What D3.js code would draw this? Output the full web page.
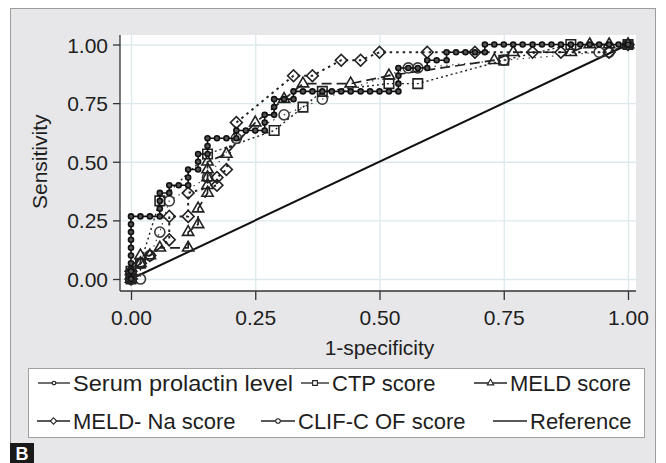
<!DOCTYPE html>
<html>
<head>
<meta charset="utf-8">
<script src="https://cdn.jsdelivr.net/npm/d3@7"></script>
<style>
body { margin: 0; background: #fff; }
text { font-family: "Liberation Sans", Arial, sans-serif; fill: #1e1e1e; }
</style>
</head>
<body>
<div id="plot"></div>
<script>
// ROC points: [1-specificity, sensitivity]
var xTicks = [0, 0.25, 0.5, 0.75, 1];
var yTicks = [0, 0.25, 0.5, 0.75, 1];

var prolactin = [
  [0,0],[0,.033],[0,.067],[0,.1],[0,.133],[0,.167],[0,.2],[0,.233],[0,.267],
  [.019,.267],[.038,.267],[.058,.267],
  [.058,.3],[.058,.333],[.058,.367],
  [.077,.367],[.077,.4],
  [.096,.4],[.115,.4],
  [.115,.433],[.115,.467],
  [.135,.467],[.135,.5],[.135,.533],
  [.154,.533],[.154,.567],[.154,.6],
  [.173,.6],[.192,.6],[.212,.6],
  [.212,.633],
  [.231,.633],[.25,.633],[.269,.633],
  [.269,.667],[.269,.7],
  [.288,.7],[.288,.733],[.288,.767],
  [.308,.767],[.327,.767],
  [.327,.8],
  [.346,.8],[.365,.8],[.385,.8],[.404,.8],[.423,.8],[.442,.8],[.462,.8],[.481,.8],[.5,.8],[.519,.8],[.538,.8],
  [.538,.833],[.538,.867],[.538,.9],
  [.558,.9],[.577,.9],[.596,.9],
  [.596,.933],
  [.615,.933],[.635,.933],
  [.635,.967],
  [.654,.967],[.673,.967],[.692,.967],[.712,.967],
  [.712,1],
  [.731,1],[.75,1],[.769,1],[.788,1],[.808,1],[.827,1],[.846,1],[.865,1],[.885,1],[.904,1],[.923,1],[.942,1],[.962,1],[.981,1],[1,1]
];

var ctp = [
  [0,0],[0,.033],[.019,.067],[.058,.333],[.154,.533],[.288,.633],[.346,.733],
  [.385,.8],[.519,.833],[.577,.833],[.75,.933],[.885,1],[1,1]
];

var meld = [
  [0,0],[0,.033],[.019,.067],[.019,.1],[.038,.1],[.058,.133],[.115,.133],[.115,.2],
  [.135,.233],[.135,.3],[.154,.367],[.154,.4],[.154,.433],[.154,.467],[.154,.5],
  [.192,.533],[.25,.667],[.308,.767],[.346,.833],[.442,.833],[.519,.867],
  [.731,.933],[.769,.967],[.885,.967],[.923,1],[.962,1],[1,1]
];

var meldNa = [
  [0,0],[0,.033],[.019,.067],[.038,.1],[.077,.167],[.077,.267],[.115,.267],[.115,.367],
  [.173,.4],[.173,.433],[.192,.467],[.212,.667],[.327,.867],[.365,.867],[.423,.933],
  [.462,.933],[.5,.967],[.596,.967],[.692,.967],[.808,.967],[.865,.967],[.962,.967],[1,1]
];

var clif = [
  [0,0],[.019,0],[.019,.067],[.038,.1],[.058,.2],[.077,.333],[.154,.433],[.212,.6],
  [.308,.7],[.385,.767],[.558,.9],[.577,.9],[.75,.933],[.942,.967],[.962,.967],[1,1]
];

var reference = [[0,0],[1,1]];

var svgWidth = 666;
var svgHeight = 463;

var svg = d3.select("#plot")
  .append("svg")
  .attr("width", svgWidth)
  .attr("height", svgHeight);

// outer gray panel
svg.append("rect")
  .attr("x", 10.5).attr("y", 8.5)
  .attr("width", 645).attr("height", 470)
  .attr("fill", "#e7e7e9")
  .attr("stroke", "#9c9c9c");

// plot region
var plot = { left: 120, top: 35, right: 636, bottom: 291 };
svg.append("rect")
  .attr("x", plot.left).attr("y", plot.top)
  .attr("width", plot.right - plot.left)
  .attr("height", plot.bottom - plot.top)
  .attr("fill", "#fff");

var x = d3.scaleLinear().domain([0, 1]).range([131, 628]);
var y = d3.scaleLinear().domain([0, 1]).range([279, 44.5]);

// gridlines
svg.append("g")
  .attr("transform", "translate(0," + plot.top + ")")
  .call(d3.axisBottom(x).tickValues(xTicks).tickSize(plot.bottom - plot.top).tickFormat(""))
  .call(g => g.select(".domain").remove())
  .call(g => g.selectAll("line").attr("stroke", "#dce9ec").attr("stroke-width", 1.3));
svg.append("g")
  .attr("transform", "translate(" + plot.left + ",0)")
  .call(d3.axisRight(y).tickValues(yTicks).tickSize(plot.right - plot.left).tickFormat(""))
  .call(g => g.select(".domain").remove())
  .call(g => g.selectAll("line").attr("stroke", "#dce9ec").attr("stroke-width", 1.3));

// axes
var fmt = d3.format(".2f");
var xAxis = svg.append("g")
  .attr("transform", "translate(0," + plot.bottom + ")")
  .call(d3.axisBottom(x).tickValues(xTicks).tickFormat(fmt).tickSize(9).tickPadding(10));
var yAxis = svg.append("g")
  .attr("transform", "translate(" + plot.left + ",0)")
  .call(d3.axisLeft(y).tickValues(yTicks).tickFormat(fmt).tickSize(7).tickPadding(5));
[xAxis, yAxis].forEach(function(a) {
  a.select(".domain").remove();
  a.selectAll("line").attr("stroke", "#333").attr("stroke-width", 1.3);
  a.selectAll("text").attr("font-size", "21px")
    .attr("font-family", "Liberation Sans, Arial, sans-serif").attr("fill", "#1e1e1e");
});
yAxis.selectAll("text").attr("dy", "0.36em");
svg.append("line")
  .attr("x1", plot.left).attr("x2", plot.left)
  .attr("y1", plot.top).attr("y2", plot.bottom)
  .attr("stroke", "#333").attr("stroke-width", 1.3);
svg.append("line")
  .attr("x1", plot.left).attr("x2", plot.right)
  .attr("y1", plot.bottom).attr("y2", plot.bottom)
  .attr("stroke", "#333").attr("stroke-width", 1.3);

svg.append("text")
  .attr("x", (x(0) + x(1)) / 2).attr("y", 355)
  .attr("text-anchor", "middle")
  .attr("font-size", "21px")
  .text("1-specificity");
svg.append("text")
  .attr("transform", "translate(47," + (y(0) + y(1)) / 2 + ") rotate(-90)")
  .attr("text-anchor", "middle")
  .attr("font-size", "21px")
  .text("Sensitivity");

// marker shapes
function markerPath(shape, size) {
  if (shape === "diamond")
    return d3.symbol(d3.symbolSquare, size)();
  var t = { circle: d3.symbolCircle, square: d3.symbolSquare, triangle: d3.symbolTriangle }[shape];
  return d3.symbol(t, size)();
}

var series = [
  { name: "CLIF-C OF score", data: clif, dash: "1.4,4.5", width: 1.2, color: "#3a3a3a", shape: "circle", size: 80, fill: "none" },
  { name: "MELD- Na score", data: meldNa, dash: "2.5,4", width: 2, color: "#222", shape: "diamond", size: 70, fill: "none" },
  { name: "MELD score", data: meld, dash: "10,5", width: 1.7, color: "#222", shape: "triangle", size: 55, fill: "none" },
  { name: "CTP score", data: ctp, dash: "2,3", width: 1.4, color: "#222", shape: "square", size: 90, fill: "none" },
  { name: "Serum prolactin level", data: prolactin, dash: null, width: 1.6, color: "#111", shape: "circle", size: 20, fill: "#555" }
];

var line = d3.line()
  .x(d => x(d[0]))
  .y(d => y(d[1]));

// reference diagonal
svg.append("path")
  .datum(reference)
  .attr("d", line)
  .attr("fill", "none")
  .attr("stroke", "#111")
  .attr("stroke-width", 2);

series.forEach(function(s) {
  svg.append("path")
    .datum(s.data)
    .attr("d", line)
    .attr("fill", "none")
    .attr("stroke", s.color)
    .attr("stroke-width", s.width)
    .attr("stroke-dasharray", s.dash);
  svg.append("g").selectAll("path")
    .data(s.data)
    .join("path")
    .attr("d", markerPath(s.shape, s.size))
    .attr("transform", d => "translate(" + x(d[0]) + "," + y(d[1]) + ")" + (s.shape === "diamond" ? " rotate(45)" : ""))
    .attr("fill", s.fill)
    .attr("stroke", s.color)
    .attr("stroke-width", 1.6);
});

// legend
svg.append("rect")
  .attr("x", 28.5).attr("y", 368.5)
  .attr("width", 616).attr("height", 69)
  .attr("fill", "#fff")
  .attr("stroke", "#a0a0a0");

var legendItems = [
  { label: "Serum prolactin level", shape: "circle", size: 10, x0: 38, x1: 70, row: 0, len: 220 },
  { label: "CTP score", shape: "square", size: 22, x0: 301, x1: 329, row: 0 },
  { label: "MELD score", shape: "triangle", size: 18, x0: 474, x1: 507, row: 0 },
  { label: "MELD- Na score", shape: "diamond", size: 20, x0: 37, x1: 70, row: 1 },
  { label: "CLIF-C OF score", shape: "circle", size: 16, x0: 261, x1: 295, row: 1 },
  { label: "Reference", shape: null, size: 0, x0: 493, x1: 527, row: 1 }
];
var rowY = [383, 421];
legendItems.forEach(function(it) {
  var ly = rowY[it.row];
  svg.append("line")
    .attr("x1", it.x0).attr("x2", it.x1)
    .attr("y1", ly).attr("y2", ly)
    .attr("stroke", "#222").attr("stroke-width", 1.3);
  if (it.shape) {
    svg.append("path")
      .attr("d", markerPath(it.shape, it.size))
      .attr("transform", "translate(" + (it.x0 + it.x1) / 2 + "," + ly + ")" + (it.shape === "diamond" ? " rotate(45)" : ""))
      .attr("fill", "#fff")
      .attr("stroke", "#222")
      .attr("stroke-width", 1.1);
  }
  var t = svg.append("text")
    .attr("x", it.x1 + 3).attr("y", ly)
    .attr("dy", "0.36em")
    .attr("font-size", "22px")
    .text(it.label);
  if (it.len) t.attr("textLength", it.len).attr("lengthAdjust", "spacingAndGlyphs");
});

// panel letter
svg.append("rect")
  .attr("x", 10).attr("y", 443)
  .attr("width", 24).attr("height", 20)
  .attr("fill", "#1a1a1a");
svg.append("text")
  .attr("x", 22).attr("y", 460)
  .attr("text-anchor", "middle")
  .attr("font-size", "18px")
  .attr("font-weight", "bold")
  .style("fill", "#fff")
  .text("B");
</script>
</body>
</html>
